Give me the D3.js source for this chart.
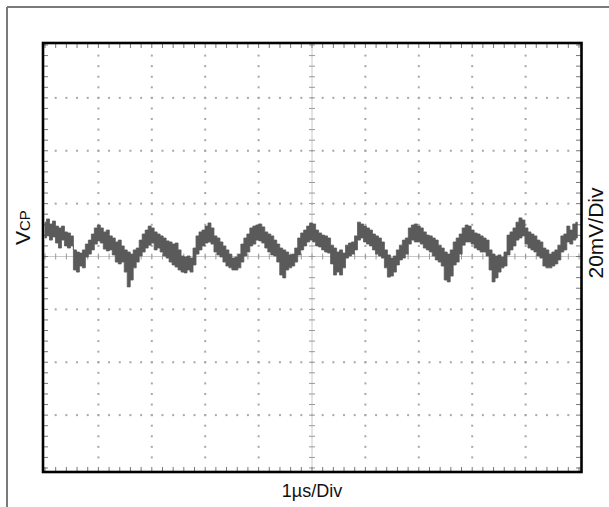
<!DOCTYPE html>
<html>
<head>
<meta charset="utf-8">
<script src="https://cdn.jsdelivr.net/npm/d3@7"></script>
<style>
  html, body { margin: 0; padding: 0; background: #fff; }
  svg { display: block; }
  text { font-family: "Liberation Sans", Arial, sans-serif; fill: #111; }
</style>
</head>
<body>
<svg id="chart" width="609" height="507"></svg>
<script>
// ---- Data ----
// time in µs (1 µs / div, 10 divisions)
const timeUs = [
  0.000,0.056,0.112,0.168,0.224,0.280,0.336,0.392,0.448,0.504,
  0.560,0.616,0.672,0.728,0.784,0.840,0.896,0.952,1.008,1.064,
  1.120,1.176,1.232,1.288,1.344,1.400,1.456,1.512,1.568,1.624,
  1.680,1.736,1.792,1.848,1.904,1.960,2.016,2.072,2.128,2.184,
  2.240,2.296,2.352,2.408,2.464,2.520,2.576,2.632,2.688,2.744,
  2.800,2.856,2.912,2.968,3.024,3.080,3.136,3.192,3.248,3.304,
  3.360,3.416,3.472,3.528,3.584,3.640,3.696,3.752,3.808,3.864,
  3.920,3.976,4.032,4.088,4.144,4.200,4.256,4.312,4.368,4.424,
  4.480,4.536,4.592,4.648,4.704,4.760,4.816,4.872,4.928,4.984,
  5.040,5.096,5.152,5.208,5.264,5.320,5.376,5.432,5.488,5.544,
  5.600,5.656,5.712,5.768,5.824,5.880,5.936,5.992,6.048,6.104,
  6.160,6.216,6.272,6.328,6.384,6.440,6.496,6.552,6.608,6.664,
  6.720,6.776,6.832,6.888,6.944,7.000,7.056,7.112,7.168,7.224,
  7.280,7.336,7.392,7.448,7.504,7.560,7.616,7.672,7.728,7.784,
  7.840,7.896,7.952,8.008,8.064,8.120,8.176,8.232,8.288,8.344,
  8.400,8.456,8.512,8.568,8.624,8.680,8.736,8.792,8.848,8.904,
  8.960,9.016,9.072,9.128,9.184,9.240,9.296,9.352,9.408,9.464,
  9.520,9.576,9.632,9.688,9.744,9.800,9.856,9.912,9.968
];
// upper edge of the noisy trace band, mV (20 mV / div)
const upperMv = [
  13.0,14.2,12.3,13.4,11.5,10.8,11.5,9.3,8.9,7.8,
  2.5,1.7,1.3,2.5,4.7,6.2,8.5,10.8,11.9,10.8,
  9.3,10.0,7.8,7.0,5.5,6.2,4.0,2.5,1.7,0.9,
  2.5,3.2,6.2,8.5,10.0,11.5,10.8,9.3,8.5,7.8,
  7.0,5.9,5.5,4.7,5.1,2.5,0.2,-0.2,0.2,-0.6,
  3.2,7.8,9.3,10.0,11.5,12.7,10.8,7.8,7.0,5.5,
  4.0,2.5,0.9,-0.6,-0.2,0.9,4.7,7.0,8.5,10.8,
  11.5,11.9,12.3,11.2,9.3,8.5,7.8,6.2,4.7,3.2,
  2.5,1.7,0.6,0.9,3.2,7.0,8.9,10.0,11.5,12.7,
  12.3,10.0,8.9,8.1,7.8,7.0,4.3,3.2,1.7,2.5,
  1.3,4.3,5.1,5.5,7.8,13.0,12.3,11.5,10.8,10.0,
  8.5,7.8,7.0,5.5,2.5,0.6,-0.6,0.2,2.5,4.3,
  6.2,7.0,10.8,11.9,12.3,11.5,10.8,9.3,8.1,7.8,
  7.0,6.2,4.3,3.2,1.7,0.9,2.5,5.5,7.0,8.5,
  10.8,11.9,11.5,10.0,8.9,8.5,7.8,7.0,6.2,2.5,
  0.9,0.2,0.6,-0.2,1.7,8.1,9.3,10.8,13.0,14.6,
  13.8,10.8,9.3,8.5,7.8,6.2,5.5,3.2,2.5,0.9,
  1.7,2.5,4.3,7.8,8.5,11.5,10.0,12.3,13.0
];
// lower edge of the noisy trace band, mV
const lowerMv = [
  7.0,7.8,6.2,7.4,5.1,3.2,6.2,4.0,3.2,4.0,
  -5.1,-5.9,-3.6,-4.3,-0.2,0.9,2.5,4.7,5.9,5.1,
  2.8,2.1,2.5,0.6,-2.1,-2.8,-2.1,-5.9,-11.5,-8.9,
  -4.3,-2.1,0.2,1.7,3.2,4.3,5.1,2.5,3.2,1.7,
  0.2,-0.6,-2.1,-3.2,-4.0,-5.1,-5.9,-6.2,-5.1,-5.9,
  -3.2,0.9,2.5,4.0,5.1,5.5,4.7,1.7,0.6,-0.2,
  -2.1,-3.6,-4.3,-5.1,-5.1,-4.3,-2.1,0.2,1.7,4.0,
  4.7,6.2,5.9,5.1,3.2,1.7,0.6,0.2,-2.1,-7.0,
  -8.1,-5.1,-4.3,-3.6,-2.1,0.6,2.5,4.0,5.5,6.2,
  5.5,4.0,3.6,2.5,1.7,1.3,-2.8,-7.0,-5.9,-7.0,
  -4.3,-0.6,0.2,0.9,2.5,6.2,7.0,5.5,4.7,4.0,
  2.5,0.9,0.2,-0.6,-4.3,-7.8,-7.4,-5.9,-3.2,-1.3,
  -0.6,0.9,4.7,6.2,5.5,5.5,4.7,3.2,2.5,1.7,
  0.2,-1.3,-2.1,-3.6,-8.9,-9.6,-7.4,-3.2,-2.1,0.9,
  4.3,5.5,5.5,4.7,3.2,2.5,1.7,1.7,0.2,-5.1,
  -9.6,-8.1,-5.9,-4.3,-3.6,0.6,2.5,4.0,6.2,7.0,
  7.8,4.7,3.2,2.5,1.7,0.2,-0.6,-3.6,-4.3,-4.3,
  -3.6,-2.8,-1.3,1.7,2.5,5.5,4.7,6.2,7.0
];
// screen divisions
const xDivisions = [0,1,2,3,4,5,6,7,8,9,10];          // µs
const yDivisions = [-80,-60,-40,-20,0,20,40,60,80];   // mV
const xLabel = "1µs/Div";
const yLabelRight = "20mV/Div";
const signalMain = "V";
const signalSub = "CP";

// ---- Drawing ----
const svg = d3.select("#chart");
const x = d3.scaleLinear().domain([0, 10]).range([45, 579]);
const y = d3.scaleLinear().domain([-80, 80]).range([468, 45]);

// outer cropped frame
svg.append("line").attr("x1", 7).attr("y1", 7).attr("x2", 609).attr("y2", 7)
  .attr("stroke", "#7a7a7a").attr("stroke-width", 2);
svg.append("line").attr("x1", 7).attr("y1", 7).attr("x2", 7).attr("y2", 507)
  .attr("stroke", "#7a7a7a").attr("stroke-width", 2);

const xMinor = d3.range(0, 10.001, 0.2);
const yMinor = d3.range(-80, 80.001, 4);

const grid = svg.append("g");
// dotted major grid (vertical lines)
xDivisions.filter(d => d !== 0 && d !== 5 && d !== 10).forEach(d => {
  grid.selectAll(null).data(yMinor.slice(1, -1)).enter().append("rect")
    .attr("x", x(d) - 1).attr("y", v => y(v) - 1).attr("width", 2).attr("height", 2)
    .attr("fill", "#a8a8a8");
});
// dotted major grid (horizontal lines)
yDivisions.filter(d => d !== 0 && d !== -80 && d !== 80).forEach(d => {
  grid.selectAll(null).data(xMinor.slice(1, -1)).enter().append("rect")
    .attr("x", t => x(t) - 1).attr("y", y(d) - 1).attr("width", 2).attr("height", 2)
    .attr("fill", "#a8a8a8");
});
// centre cross with minor ticks
grid.append("line").attr("x1", x(0)).attr("x2", x(10)).attr("y1", y(0)).attr("y2", y(0))
  .attr("stroke", "#c8c8c8").attr("stroke-width", 1);
grid.append("line").attr("x1", x(5)).attr("x2", x(5)).attr("y1", y(-80)).attr("y2", y(80))
  .attr("stroke", "#c8c8c8").attr("stroke-width", 1);
grid.selectAll(null).data(xMinor).enter().append("line")
  .attr("x1", t => x(t)).attr("x2", t => x(t)).attr("y1", y(0) - 3).attr("y2", y(0) + 3)
  .attr("stroke", "#999").attr("stroke-width", 1);
grid.selectAll(null).data(yMinor).enter().append("line")
  .attr("y1", v => y(v)).attr("y2", v => y(v)).attr("x1", x(5) - 3).attr("x2", x(5) + 3)
  .attr("stroke", "#999").attr("stroke-width", 1);

// border ticks
const bt = svg.append("g").attr("stroke", "#777").attr("stroke-width", 1);
bt.selectAll(null).data(xMinor).enter().append("line")
  .attr("x1", t => x(t)).attr("x2", t => x(t)).attr("y1", 43).attr("y2", 48);
bt.selectAll(null).data(xMinor).enter().append("line")
  .attr("x1", t => x(t)).attr("x2", t => x(t)).attr("y1", 472).attr("y2", 467);
bt.selectAll(null).data(yMinor).enter().append("line")
  .attr("y1", v => y(v)).attr("y2", v => y(v)).attr("x1", 43).attr("x2", 48);
bt.selectAll(null).data(yMinor).enter().append("line")
  .attr("y1", v => y(v)).attr("y2", v => y(v)).attr("x1", 581).attr("x2", 576);

// trace band
const trace = timeUs.map((t, i) => ({ t, hi: upperMv[i], lo: lowerMv[i] }));
const area = d3.area()
  .x(d => x(d.t))
  .y0(d => y(d.lo))
  .y1(d => y(d.hi))
  .curve(d3.curveStep);
svg.append("path").datum(trace).attr("d", area)
  .attr("fill", "#5a5a5a").attr("stroke", "#5a5a5a").attr("stroke-width", 0.8);

// plot border
svg.append("rect").attr("x", 43).attr("y", 43).attr("width", 538.5).attr("height", 429)
  .attr("fill", "none").attr("stroke", "#000").attr("stroke-width", 2.6);

// labels
svg.append("text").attr("x", x(5)).attr("y", 497).attr("text-anchor", "middle")
  .attr("font-size", 18).text(xLabel);
svg.append("text").attr("transform", "translate(603,233) rotate(-90)")
  .attr("text-anchor", "middle").attr("font-size", 21).text(yLabelRight);
const vt = svg.append("text").attr("transform", "translate(30,245) rotate(-90)")
  .attr("text-anchor", "start");
vt.append("tspan").attr("font-size", 21).text(signalMain);
vt.append("tspan").attr("font-size", 15).text(signalSub);
</script>
</body>
</html>
